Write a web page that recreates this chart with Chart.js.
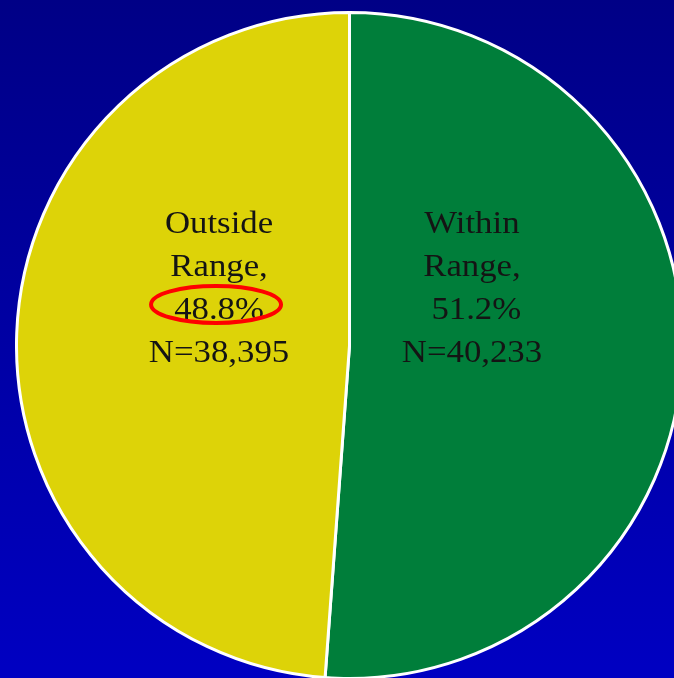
<!DOCTYPE html>
<html lang="en">
<head>
    <meta charset="UTF-8">
    <title>Within vs Outside Range</title>
    <script src="https://cdn.jsdelivr.net/npm/chart.js@4.4.0/dist/chart.umd.min.js"></script>
    <style>
        html, body { margin: 0; padding: 0; width: 674px; height: 678px; overflow: hidden; }
        body { background: linear-gradient(to bottom, #000086 0%, #0000a4 50%, #0000c2 100%); position: relative; }
        #pieChart { position: absolute; left: 15px; top: 11px; }
    </style>
</head>
<body>
    <canvas id="pieChart" width="669" height="669"></canvas>

    <script>
        // data
        const categories = ['Within Range', 'Outside Range'];
        const labelLines = [['Within', 'Range,', ' 51.2%', 'N=40,233'], ['Outside', 'Range,', '48.8%', 'N=38,395']];
        const counts = [40233, 38395];
        const sliceColors = ['#007e3a', '#ddd308'];
        const circledLine = [-1, 2]; // which label line has the red ring (-1 = none)

        // text labels written inside each slice
        const sliceLabels = {
            id: 'sliceLabels',
            afterDatasetsDraw(chart) {
                const ctx = chart.ctx;
                const arcs = chart.getDatasetMeta(0).data;
                arcs.forEach((arc, i) => {
                    const p = arc.getProps(['x', 'y', 'startAngle', 'endAngle', 'outerRadius'], true);
                    const mid = (p.startAngle + p.endAngle) / 2;
                    const cx = p.x + Math.cos(mid) * p.outerRadius * 0.38 - 4;
                    const cy = p.y - p.outerRadius * 0.176;
                    const lines = labelLines[i];
                    const lh = 43;
                    lines.forEach((t, j) => {
                        const by = cy + (j - (lines.length - 1) / 2) * lh + 11;
                        // slide text is a little wider than plain Times
                        ctx.save();
                        ctx.translate(cx, by);
                        ctx.scale(1.07, 1);
                        ctx.font = '32.5px "Liberation Serif", "Times New Roman", serif';
                        ctx.fillStyle = '#141414';
                        ctx.textAlign = 'center';
                        ctx.textBaseline = 'alphabetic';
                        ctx.fillText(t, 0, 0);
                        ctx.restore();
                        if (circledLine[i] === j) {
                            ctx.save();
                            ctx.beginPath();
                            ctx.ellipse(cx - 3, by - 15, 65, 18.5, 0, 0, Math.PI * 2);
                            ctx.lineWidth = 4;
                            ctx.strokeStyle = '#ff0000';
                            ctx.stroke();
                            ctx.restore();
                        }
                    });
                });
            }
        };

        new Chart(document.getElementById('pieChart'), {
            type: 'pie',
            data: {
                labels: categories,
                datasets: [{
                    data: counts,
                    backgroundColor: sliceColors,
                    borderColor: '#ffffff',
                    borderWidth: 3
                }]
            },
            options: {
                responsive: false,
                animation: false,
                layout: { padding: 0 },
                plugins: {
                    legend: { display: false },
                    tooltip: { enabled: false }
                }
            },
            plugins: [sliceLabels]
        });
    </script>
</body>
</html>
